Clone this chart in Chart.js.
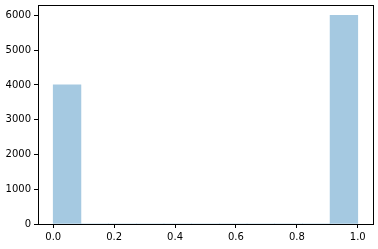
<!DOCTYPE html>
<html>
<head>
<meta charset="utf-8">
<script src="https://cdn.jsdelivr.net/npm/chart.js@4"></script>
<style>
  html, body { margin: 0; padding: 0; background: #fff; }
  #wrap { width: 378px; height: 249px; }
</style>
</head>
<body>
<div id="wrap"><canvas id="plot"></canvas></div>
<script>
// histogram: 11 equal bins between 0 and 1
var binEdges = [0, 1/11, 2/11, 3/11, 4/11, 5/11, 6/11, 7/11, 8/11, 9/11, 10/11, 1];
var counts = [4000, 0, 0, 0, 0, 0, 0, 0, 0, 0, 6000];
var xTicks = [0, 0.2, 0.4, 0.6, 0.8, 1.0];
var yTicks = [0, 1000, 2000, 3000, 4000, 5000, 6000];

var points = [];
for (var i = 0; i < counts.length; i++) {
  points.push({ x: (binEdges[i] + binEdges[i + 1]) / 2, y: counts[i] });
}

// top and right spines
var frame = {
  id: 'frame',
  afterDraw: function(chart) {
    var a = chart.chartArea, ctx = chart.ctx;
    ctx.save();
    ctx.strokeStyle = '#000';
    ctx.lineWidth = 1;
    ctx.strokeRect(Math.round(a.left) + 0.5, Math.round(a.top) + 0.5,
      Math.round(a.right - a.left), Math.round(a.bottom - a.top));
    ctx.restore();
  }
};

Chart.defaults.font.family = 'DejaVu Sans';
Chart.defaults.font.size = 10;
Chart.defaults.color = '#000';

var config = {
  type: 'bar',
  data: {
    datasets: [{
      data: points,
      backgroundColor: 'rgba(31,119,180,0.4)',
      borderWidth: 0,
      barPercentage: 1,
      categoryPercentage: 1
    }]
  },
  options: {
    responsive: false,
    animation: false,
    layout: { padding: { top: 5, right: 5, left: 0, bottom: 0 } },
    plugins: { legend: { display: false }, tooltip: { enabled: false } },
    scales: {
      x: {
        type: 'linear',
        offset: false,
        min: -0.05,
        max: 1.05,
        afterBuildTicks: function(s) { s.ticks = xTicks.map(function(v) { return { value: v }; }); },
        afterFit: function(s) { s.height = 25; s.paddingLeft = 0; s.paddingRight = 0; },
        ticks: {
          maxRotation: 0,
          padding: 3,
          callback: function(v) { return Number(v).toFixed(1); }
        },
        grid: { offset: false, drawOnChartArea: false, drawTicks: true, tickLength: 4, color: '#000' },
        border: { color: '#000' }
      },
      y: {
        min: 0,
        max: 6300,
        afterBuildTicks: function(s) { s.ticks = yTicks.map(function(v) { return { value: v }; }); },
        afterFit: function(s) { s.width = 38; s.paddingTop = 0; s.paddingBottom = 0; },
        ticks: { padding: 3, callback: function(v) { return String(v); } },
        grid: { offset: false, drawOnChartArea: false, drawTicks: true, tickLength: 4, color: '#000' },
        border: { color: '#000' }
      }
    }
  },
  plugins: [frame]
};

var cv = document.getElementById('plot');
cv.width = 378;
cv.height = 249;
new Chart(cv.getContext('2d'), config);
</script>
</body>
</html>
